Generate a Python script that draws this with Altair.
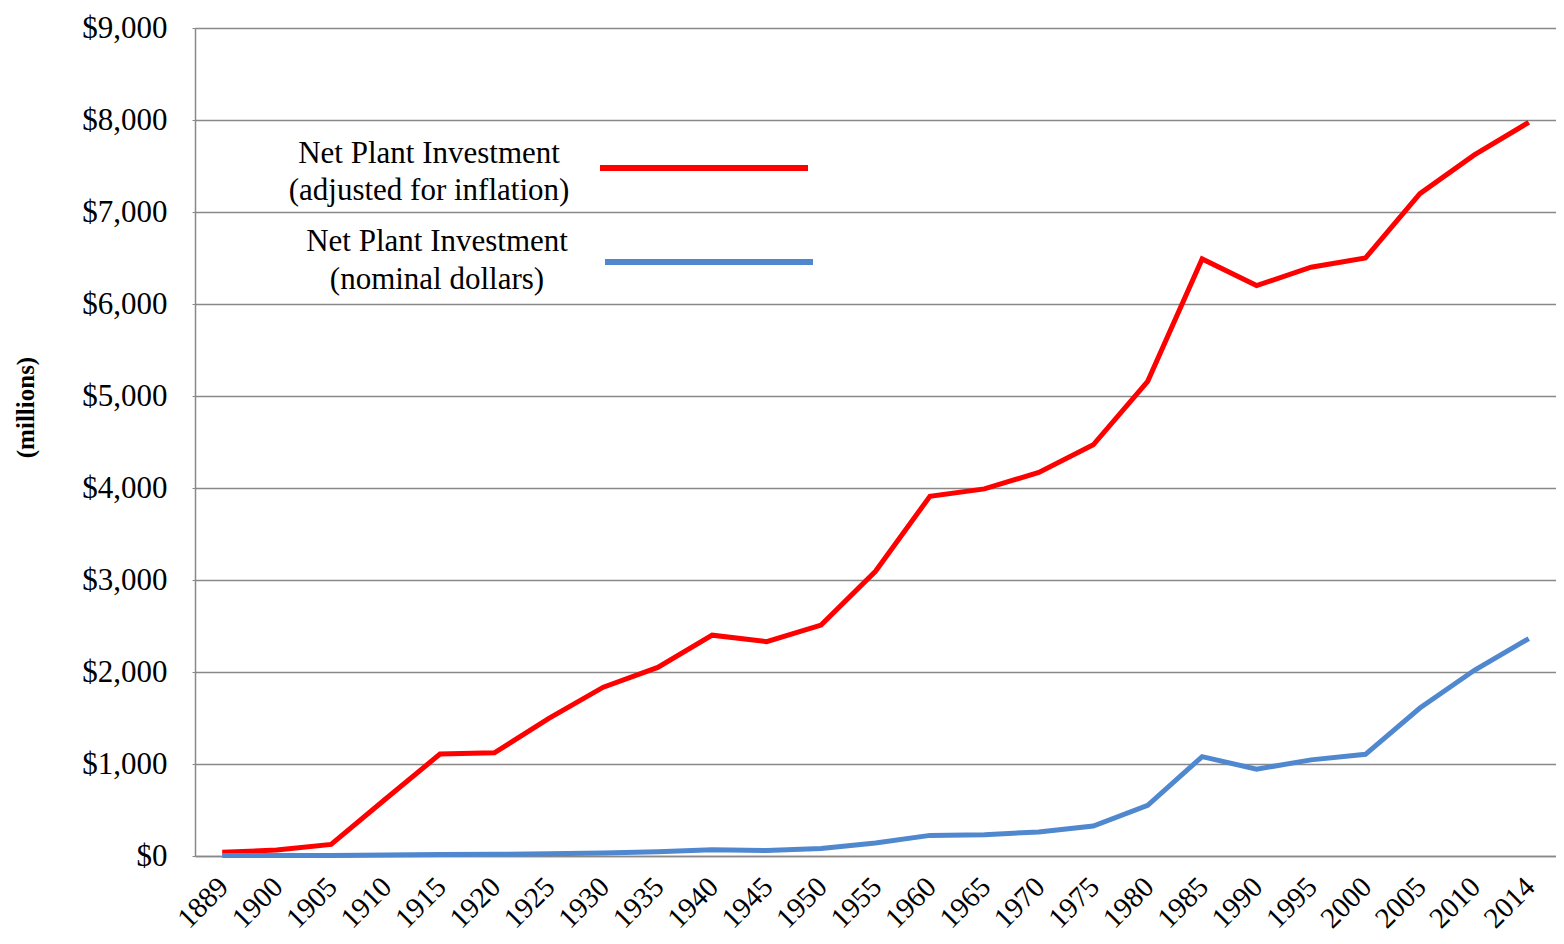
import altair as alt
import pandas as pd

years = ["1889", "1900", "1905", "1910", "1915", "1920", "1925", "1930", "1935",
         "1940", "1945", "1950", "1955", "1960", "1965", "1970", "1975", "1980",
         "1985", "1990", "1995", "2000", "2005", "2010", "2014"]
adjusted = [40, 65, 126, 620, 1108, 1122, 1496, 1835, 2050,
            2400, 2330, 2510, 3095, 3910, 3990, 4170, 4470, 5160,
            6490, 6200, 6400, 6500, 7200, 7620, 7975]
nominal = [5, 5, 5, 10, 17, 18, 25, 33, 45,
           67, 60, 82, 142, 224, 232, 262, 325, 550,
           1080, 944, 1045, 1105, 1609, 2019, 2363]

series_names = ["Net Plant Investment (adjusted for inflation)",
                "Net Plant Investment (nominal dollars)"]
colors = ["#FF0000", "#5088D0"]

rows = []
for y, a, n in zip(years, adjusted, nominal):
    rows.append({"year": y, "value": a, "series": series_names[0]})
    rows.append({"year": y, "value": n, "series": series_names[1]})
df = pd.DataFrame(rows)

FONT = "Liberation Serif"
W, H = 1361, 828
TOP = 20

lines = alt.Chart(df).mark_line(strokeWidth=5, strokeJoin="miter").encode(
    x=alt.X("year:O", sort=years, scale=alt.Scale(padding=0.5),
            axis=alt.Axis(title=None, labelAngle=-45, labelAlign="right",
                          labelBaseline="top", labelFontSize=29,
                          labelFont=FONT, labelColor="black", ticks=False,
                          domainColor="#898989", domainWidth=1.5,
                          labelPadding=16, labelOffset=-9)),
    y=alt.Y("value:Q", scale=alt.Scale(domain=[0, 9000], nice=False),
            axis=alt.Axis(values=list(range(0, 9001, 1000)), format="$,.0f",
                          title="(millions)", titleFont=FONT, titleFontSize=25,
                          titleFontWeight="bold", titleColor="black",
                          titleX=-170, titleY=379, titleAngle=-90,
                          titleBaseline="middle", titleAlign="center",
                          labelFont=FONT, labelFontSize=31, labelColor="black",
                          labelPadding=25, tickSize=3, tickColor="#898989",
                          domainColor="#898989", domainWidth=1.5,
                          grid=True, gridColor="#898989", gridWidth=1.5)),
    color=alt.Color("series:N", scale=alt.Scale(domain=series_names, range=colors),
                    legend=None),
)

leg_text1 = ["Net Plant Investment", "(adjusted for inflation)"]
leg_text2 = ["Net Plant Investment", "(nominal dollars)"]

def label(txt, xpx, ypx):
    return alt.Chart(pd.DataFrame({"t": [txt]})).mark_text(
        font=FONT, fontSize=31, color="black", align="center", baseline="middle"
    ).encode(text="t:N", x=alt.value(xpx), y=alt.value(ypx))

legend_layers = [
    label(leg_text1[0], 234, 126),
    label(leg_text1[1], 234, 163),
    label(leg_text2[0], 242, 214),
    label(leg_text2[1], 242, 252),
    alt.Chart(pd.DataFrame({"s": [series_names[0]]})).mark_rule(
        color=colors[0], strokeWidth=6).encode(
        x=alt.value(405), x2=alt.value(613), y=alt.value(140)),
    alt.Chart(pd.DataFrame({"s": [series_names[1]]})).mark_rule(
        color=colors[1], strokeWidth=6).encode(
        x=alt.value(410), x2=alt.value(618), y=alt.value(234)),
]

chart = alt.layer(lines, *legend_layers).properties(
    width=W, height=H,
    autosize=alt.AutoSizeParams(type="none"),
    padding={"left": 187, "top": TOP, "right": 0, "bottom": 80},
).configure_view(stroke=None).configure(background="white")

chart.save("out.html", embed_options={"renderer": "svg", "actions": False})
